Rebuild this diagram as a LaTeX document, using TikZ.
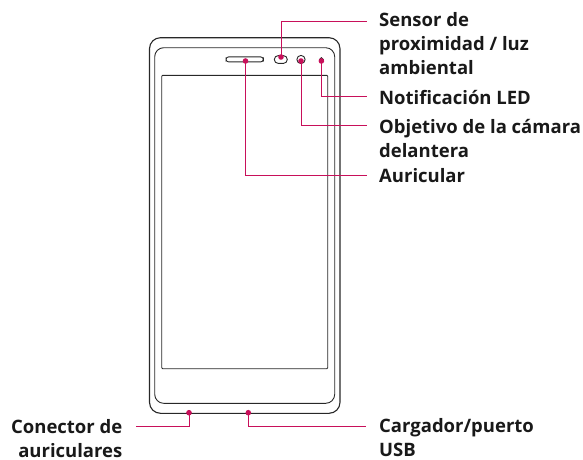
\documentclass[tikz,border=0pt]{standalone}
\usepackage{fontspec}
\setmainfont{Open Sans}
\definecolor{lgred}{RGB}{200,16,90}
\definecolor{body}{RGB}{40,40,40}
\tikzset{
  lbl/.style={font=\fontsize{18.5}{24}\selectfont\bfseries,text=black!90,inner sep=0pt,anchor=base west,align=left},
  lblr/.style={font=\fontsize{18.5}{24}\selectfont\bfseries,text=black!90,inner sep=0pt,anchor=base east,align=right},
  part/.style={draw=body,line width=0.9pt},
  lead/.style={draw=lgred,line width=1pt},
  pin/.style={circle,fill=lgred,inner sep=0pt,minimum size=5.6pt},
}
\begin{document}
\begin{tikzpicture}[x=1pt,y=-1pt]
\useasboundingbox (0,0) rectangle (583,459);
% phone
\draw[part,line width=1.1pt,rounded corners=11pt] (149.5,37.7) rectangle (340,413.3);
\draw[part,rounded corners=9pt] (154.7,47.7) rectangle (334.7,403.3);
\draw[part,rounded corners=1pt] (161.7,75.3) rectangle (327.7,368.7);
\draw[part,rounded corners=2.6pt] (226,56.9) rectangle (263.3,61.9);
\draw[part,rounded corners=3.9pt] (274.3,55.6) rectangle (287.3,63.4);
\draw[part] (301,59.5) circle (4.1);
\draw[part] (321.4,59.6) circle (1.9);
% pins
\node[pin] (speaker) at (245.5,61) {};
\node[pin] (sensor) at (281,57) {};
\node[pin] (camera) at (301,61) {};
\node[pin] (led) at (321.4,61) {};
\node[pin] (jack) at (189,412.7) {};
\node[pin] (usb) at (248.3,412.7) {};
% free ends
\coordinate (esensor) at (366.7,21.5);
\coordinate (eled) at (366.7,96);
\coordinate (ecamera) at (366.7,125.5);
\coordinate (espeaker) at (366.7,175);
\coordinate (ejack) at (135.7,426);
\coordinate (eusb) at (366,426);
% leaders
\draw[lead] (sensor.center) |- (esensor);
\draw[lead] (led.center) |- (eled);
\draw[lead] (camera.center) |- (ecamera);
\draw[lead] (speaker.center) |- (espeaker);
\draw[lead] (jack.center) |- (ejack);
\draw[lead] (usb.center) |- (eusb);
% labels
\node[lbl] (t1) at (379,74) {Sensor de\\proximidad / luz\\ambiental};
\node[lbl] (t2) at (379,104) {Notificación LED};
\node[lbl] (t3) at (379,157) {Objetivo de la cámara\\delantera};
\node[lbl] (t4) at (379,182) {Auricular};
\node[lblr] (t5) at (122.5,457) {Conector de\\auriculares};
\node[lbl] (t6) at (379,456.5) {Cargador/puerto\\USB};
\end{tikzpicture}
\end{document}
